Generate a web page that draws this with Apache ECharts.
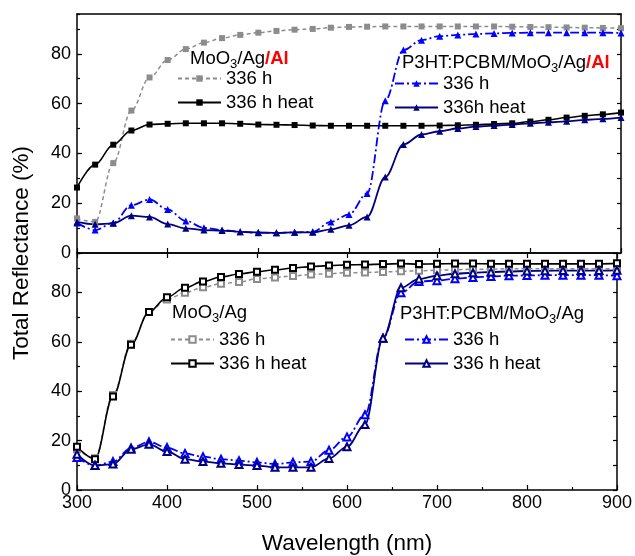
<!DOCTYPE html>
<html>
<head>
<meta charset="utf-8">
<script src="https://cdn.jsdelivr.net/npm/echarts@6/dist/echarts.min.js"></script>
<style>
  html, body { margin: 0; padding: 0; background: #fff; }
  #chart { width: 635px; height: 556px; }
</style>
</head>
<body>
<div id="chart"></div>
<script>
// wavelength (nm), one point every 20 nm
var wl = [300, 320, 340, 360, 380, 400, 420, 440, 460, 480, 500, 520, 540, 560, 580, 600,
          620, 640, 660, 680, 700, 720, 740, 760, 780, 800, 820, 840, 860, 880, 900];

// top panel: with Al
var alMoo = [13.9, 12.5, 36.1, 57.2, 70.5, 77.5, 81.9, 84.5, 86.3, 87.6, 88.5, 89.2, 89.7, 90.0, 90.5, 90.8,
             90.9, 91.0, 91.0, 91.0, 91.0, 91.0, 91.0, 91.0, 90.9, 90.8, 90.7, 90.6, 90.5, 90.4, 90.3];
var alMooHeat = [26.3, 35.5, 43.5, 49.2, 51.6, 51.9, 52.1, 52.1, 52.1, 51.9, 51.6, 51.5, 51.4, 51.2, 51.1, 51.1,
                 51.1, 51.1, 51.1, 51.1, 51.2, 51.3, 51.5, 51.8, 52.1, 52.8, 53.5, 54.4, 55.1, 55.7, 56.4];
var alP3ht = [12.1, 9.2, 12.1, 19.2, 21.5, 17.5, 12.9, 10.1, 9.2, 8.5, 8.1, 8.1, 8.3, 8.5, 12.5, 15.5,
              23.9, 61.2, 81.5, 85.5, 87.1, 87.6, 88.0, 88.2, 88.4, 88.5, 88.5, 88.5, 88.5, 88.5, 88.4];
var alP3htHeat = [12.5, 11.5, 11.9, 15.0, 14.5, 11.6, 9.9, 9.2, 9.0, 8.5, 8.3, 8.1, 8.3, 8.3, 9.5, 11.1,
                  14.5, 30.5, 43.6, 47.6, 48.9, 50.0, 50.8, 51.2, 51.6, 52.1, 52.5, 52.9, 53.5, 53.9, 54.4];

// bottom panel: without Al
var agMoo = [16.5, 12.9, 38.5, 59.2, 72.1, 77.2, 79.9, 82.1, 83.5, 84.3, 85.5, 86.1, 86.7, 87.3, 87.6, 88.0,
             88.1, 88.3, 88.6, 88.8, 89.0, 89.2, 89.4, 89.5, 89.6, 89.6, 89.6, 89.6, 89.6, 89.6, 89.6];
var agMooHeat = [17.5, 12.5, 37.9, 58.8, 72.1, 78.1, 81.9, 84.5, 86.3, 87.5, 88.4, 89.2, 89.9, 90.5, 90.9, 91.2,
                 91.3, 91.5, 91.7, 91.5, 91.6, 91.7, 91.7, 91.6, 91.6, 91.6, 91.6, 91.6, 91.6, 91.6, 91.8];
var agP3ht = [13.2, 9.9, 11.5, 17.0, 19.5, 17.2, 14.8, 13.5, 12.5, 11.9, 11.2, 10.5, 11.2, 11.5, 16.1, 21.5,
              30.5, 61.5, 79.9, 84.5, 84.8, 85.6, 86.1, 86.5, 86.8, 86.9, 87.0, 87.0, 87.0, 87.0, 86.8];
var agP3htHeat = [14.5, 9.9, 10.5, 16.5, 18.5, 15.6, 12.5, 11.5, 10.8, 10.3, 9.9, 9.2, 9.2, 9.2, 12.8, 17.5,
                  26.5, 61.5, 81.9, 85.5, 86.8, 87.6, 88.0, 88.3, 88.5, 88.7, 88.8, 88.9, 88.9, 88.9, 89.0];

var legendText = {
  a1: '336 h', a2: '336 h heat', a3: '336 h', a4: '336h heat',
  b1: '336 h', b2: '336 h heat', b3: '336 h', b4: '336 h heat'
};

var FONT = 'Liberation Sans, Arial, sans-serif';
var GRAY = '#8c8c8c', BLUE = '#0000ff', NAVY = '#000080';
var FS = 18.5;

function pts(vals) {
  return wl.map(function (w, i) { return [w, vals[i]]; });
}

function line(name, vals, color, dash, width, symbol, size, axis) {
  var empty = symbol.indexOf('empty') === 0;
  return {
    name: name,
    type: 'line',
    xAxisIndex: axis[0],
    yAxisIndex: axis[1],
    data: pts(vals),
    smooth: 0.35,
    smoothMonotone: 'x',
    symbol: symbol,
    symbolSize: size,
    showAllSymbol: true,
    lineStyle: { color: color, width: width, type: dash },
    itemStyle: empty ? { color: color, borderColor: color, borderWidth: 1 } : { color: color, borderWidth: 0 },
    emphasis: { disabled: true },
    animation: false
  };
}

var DASH = [4, 3];
var DASHDOT = [9, 3, 2, 3];

function xAx(grid, pos, opts) {
  return Object.assign({
    type: 'value', gridIndex: grid, position: pos, min: 300, max: 900, interval: 100,
    axisLine: { show: true, onZero: false, lineStyle: { color: '#000', width: 1.5 } },
    axisTick: { show: true, inside: true, length: 5, lineStyle: { color: '#000', width: 1.2 } },
    axisLabel: { show: false },
    splitLine: { show: false }
  }, opts || {});
}

function yAx(grid, pos, interval, opts) {
  return Object.assign({
    type: 'value', gridIndex: grid, position: pos, min: 0, max: 96, interval: interval,
    axisLine: { show: true, onZero: false, lineStyle: { color: '#000', width: 1.5 } },
    axisTick: { show: true, inside: true, length: 5, lineStyle: { color: '#000', width: 1.2 } },
    axisLabel: { show: false },
    splitLine: { show: false }
  }, opts || {});
}

var tickLabel = { show: true, color: '#000', fontSize: 18, fontFamily: FONT, margin: 6, showMaxLabel: false };

function legend(names, left, top) {
  return {
    data: names, orient: 'vertical', left: left, top: top,
    itemWidth: 43, itemHeight: 8, itemGap: 5, padding: 0,
    selectedMode: false,
    formatter: function (n) { return legendText[n]; },
    textStyle: { color: '#000', fontSize: FS, fontFamily: FONT }
  };
}

var rich = {
  n: { fontSize: FS, fontFamily: FONT, color: '#000', fontWeight: 'normal' },
  s: { fontSize: 13, fontFamily: FONT, color: '#000', fontWeight: 'normal', padding: [12, 0, 0, 0] },
  r: { fontSize: FS, fontFamily: FONT, color: '#ff0000', fontWeight: 'bold' }
};

function head(text, left, top) {
  return { text: text, left: left, top: top, padding: 0, textStyle: { rich: rich, fontSize: FS, fontWeight: 'normal' } };
}

var chart = echarts.init(document.getElementById('chart'));
chart.setOption({
  animation: false,
  grid: [
    { left: 77, right: 14, top: 14, height: 239 },
    { left: 77, right: 14, top: 253, height: 240 }
  ],
  title: [
    head('{n|MoO}{s|3}{n|/Ag}{r|/Al}', 190, 46),
    head('{n|P3HT:PCBM/MoO}{s|3}{n|/Ag}{r|/Al}', 402, 50),
    head('{n|MoO}{s|3}{n|/Ag}', 172, 300),
    head('{n|P3HT:PCBM/MoO}{s|3}{n|/Ag}', 400, 301)
  ],
  legend: [
    legend(['a1', 'a2'], 177, 69),
    legend(['a3', 'a4'], 394, 74),
    legend(['b1', 'b2'], 170, 330),
    legend(['b3', 'b4'], 404, 330)
  ],
  xAxis: [
    xAx(0, 'bottom'),
    xAx(0, 'top', { axisTick: { show: false } }),
    xAx(1, 'bottom', {
      axisLabel: { show: true, color: '#000', fontSize: 18, fontFamily: FONT, margin: 4 },
      minorTick: { show: true, splitNumber: 2, length: 3, lineStyle: { color: '#000', width: 1.2 } },
      name: 'Wavelength (nm)', nameLocation: 'middle', nameGap: 42,
      nameTextStyle: { color: '#000', fontSize: 22.5, fontFamily: FONT }
    }),
    xAx(1, 'top')
  ],
  yAxis: [
    yAx(0, 'left', 20, { axisLabel: tickLabel }),
    yAx(0, 'left', 10, { axisLine: { show: false }, axisTick: { show: true, inside: true, length: 3, lineStyle: { color: '#000', width: 1.2 } } }),
    yAx(0, 'right', 10, { axisTick: { show: true, inside: true, length: 4, lineStyle: { color: '#000', width: 1.2 } } }),
    yAx(1, 'left', 20, { axisLabel: tickLabel }),
    yAx(1, 'left', 10, { axisLine: { show: false }, axisTick: { show: true, inside: true, length: 3, lineStyle: { color: '#000', width: 1.2 } } }),
    yAx(1, 'right', 10, { axisTick: { show: true, inside: true, length: 4, lineStyle: { color: '#000', width: 1.2 } } })
  ],
  graphic: [{
    type: 'text', x: 22, y: 253, rotation: Math.PI / 2,
    style: { text: 'Total Reflectance (%)', fill: '#000', font: '22.5px ' + FONT, textAlign: 'center', textVerticalAlign: 'middle' }
  }],
  series: [
    line('a1', alMoo, GRAY, DASH, 1.5, 'rect', 6, [0, 0]),
    line('a2', alMooHeat, '#000', 'solid', 1.6, 'rect', 6, [0, 0]),
    line('a3', alP3ht, BLUE, DASHDOT, 1.8, 'triangle', 7, [0, 0]),
    line('a4', alP3htHeat, NAVY, 'solid', 1.8, 'triangle', 7, [0, 0]),
    line('b1', agMoo, GRAY, DASH, 1.5, 'emptyRect', 6, [2, 3]),
    line('b2', agMooHeat, '#000', 'solid', 1.6, 'emptyRect', 6, [2, 3]),
    line('b3', agP3ht, BLUE, DASHDOT, 1.8, 'emptyTriangle', 7, [2, 3]),
    line('b4', agP3htHeat, NAVY, 'solid', 1.8, 'emptyTriangle', 7, [2, 3])
  ]
});
</script>
</body>
</html>
